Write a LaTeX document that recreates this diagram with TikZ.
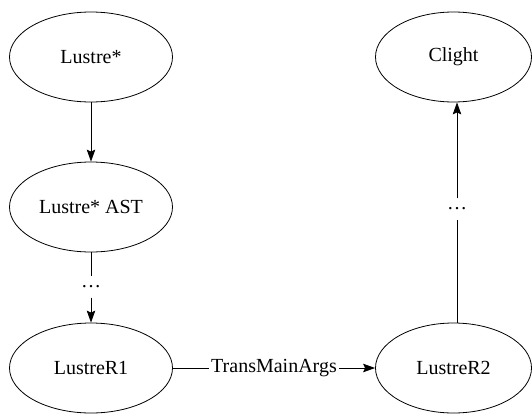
\documentclass[tikz,border=0pt]{standalone}
\usepackage{fontspec}
\setmainfont{Liberation Serif}
\usetikzlibrary{shapes.geometric,arrows.meta}

\tikzset{
  stage/.style={draw, line width=0.8pt, ellipse, inner sep=0pt,
                minimum width=163pt, minimum height=90pt,
                font=\fontsize{20}{23}\selectfont},
  gap/.style={inner sep=0pt, minimum height=21pt, minimum width=20pt,
              font=\fontsize{20}{23}\selectfont},
  flow/.style={line width=0.8pt, -{Stealth[length=12pt,width=8.5pt,inset=2pt]}},
  elabel/.style={fill=white, inner sep=2pt, font=\fontsize{20}{23}\selectfont}
}

\begin{document}
\begin{tikzpicture}[x=1pt, y=-1pt]
  \useasboundingbox (0,0) rectangle (532,415);

  % left column: front end
  \node[stage] (lustre) at (91,57)  {Lustre*};
  \node[stage] (ast)    at (91,207) {Lustre* AST};
  \node[stage] (r1)     at (91,368) {LustreR1};

  % right column: back end
  \node[stage, minimum width=156pt] (r2)     at (453.5,368) {LustreR2};
  \node[stage, minimum width=156pt] (clight) at (453.5,57)  {Clight};

  % elided intermediate passes
  \node[gap] (skipL) at (91,287)  {\dots};
  \node[gap] (skipR) at (457,209) {\dots};

  % connectors
  \draw[flow] (lustre) -- (ast);
  \draw[line width=0.8pt] (ast) -- (skipL);
  \draw[flow] (skipL) -- (r1);
  \draw[flow] (r1) -- node[elabel] {TransMainArgs} (r2);
  \draw[line width=0.8pt] ([xshift=3.5pt]r2.north) -- (skipR);
  \draw[flow] (skipR) -- ([xshift=3.5pt]clight.south);
\end{tikzpicture}
\end{document}
